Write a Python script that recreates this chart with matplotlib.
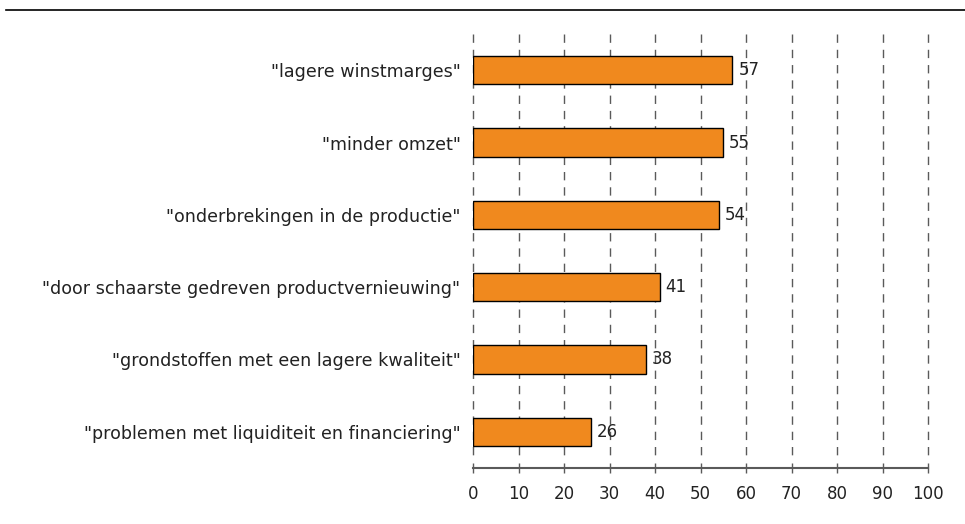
import matplotlib.pyplot as plt
from matplotlib.lines import Line2D

labels = ['"lagere winstmarges"',
          '"minder omzet"',
          '"onderbrekingen in de productie"',
          '"door schaarste gedreven productvernieuwing"',
          '"grondstoffen met een lagere kwaliteit"',
          '"problemen met liquiditeit en financiering"']
values = [57, 55, 54, 41, 38, 26]
ticks = list(range(0, 101, 10))

plt.rcParams['font.family'] = ['DejaVu Sans']
plt.rcParams['font.size'] = 12

fig = plt.figure(figsize=(9.65, 5.24), dpi=100)
ax = fig.add_axes([473 / 965, 1 - 468 / 524, 455 / 965, 434 / 524])

y = list(range(len(values)))
ax.barh(y, values, height=0.39, color='#F0891E', edgecolor='black', linewidth=1, zorder=3)
for yi, v in zip(y, values):
    ax.text(v + 1.3, yi, str(v), va='center', ha='left', color='#222222', fontsize=12, zorder=4)

# dashed gridlines, stopping a bit above the axis line
ax.vlines(ticks, -0.5, 5.32, colors='#5a5a5a', linestyles=(0, (6, 5)), linewidth=1,
          zorder=1, clip_on=False)

ax.set_xlim(0, 100)
ax.set_ylim(5.5, -0.5)
ax.set_xticks(ticks)
ax.set_yticks(y)
ax.set_yticklabels(labels, color='#222222', fontsize=12.6)
ax.tick_params(axis='y', length=0, pad=9)
ax.tick_params(axis='x', direction='inout', length=7, width=1, color='#5a5a5a',
               labelcolor='#222222', pad=9, labelsize=12)
for s in ['top', 'right', 'left']:
    ax.spines[s].set_visible(False)
ax.spines['bottom'].set_color('#5a5a5a')
ax.spines['bottom'].set_linewidth(1.5)

fig.add_artist(Line2D([6 / 965, 1], [1 - 10 / 524, 1 - 10 / 524], color='black', linewidth=1.2))

fig.savefig('out.png', dpi=100)
